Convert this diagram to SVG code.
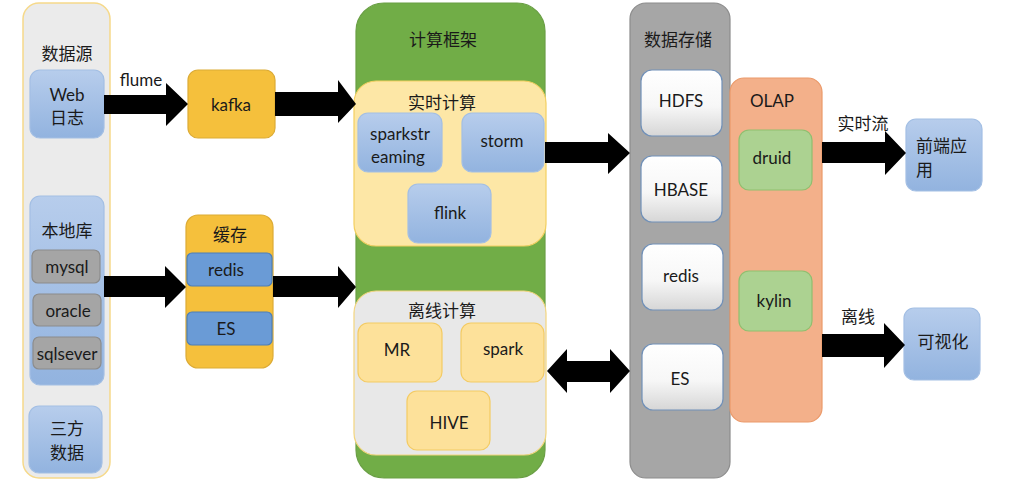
<svg xmlns="http://www.w3.org/2000/svg" width="1020" height="499" viewBox="0 0 1020 499">
<defs>
<linearGradient id="gBlue" x1="0" y1="0" x2="0" y2="1"><stop offset="0" stop-color="#b7cdec"/><stop offset="1" stop-color="#92b3df"/></linearGradient>
<linearGradient id="gWhite" x1="0" y1="0" x2="0" y2="1"><stop offset="0" stop-color="#ffffff"/><stop offset="0.55" stop-color="#f7f7f7"/><stop offset="1" stop-color="#d6d6d6"/></linearGradient>
<style>
.t{font-family:"Noto Sans CJK SC","Noto Sans",sans-serif;font-size:17px;fill:#1a1a1a;text-anchor:middle;dominant-baseline:central}
.l{font-family:Lato,"Noto Sans CJK SC",sans-serif;font-size:17px;fill:#1a1a1a;text-anchor:middle;dominant-baseline:central}
.blue{fill:url(#gBlue);stroke:#a3bfe4;stroke-width:1.2}
.gray{fill:#a5a5a5;stroke:#8c8c8c;stroke-width:1.2}
.gold{fill:#f5c03c;stroke:#dcab35;stroke-width:1.2}
.dblue{fill:#6a9bd6;stroke:#4c7fb8;stroke-width:1.2}
.lyel{fill:#fde7a6;stroke:#f3cf60;stroke-width:1.2}
.lgray{fill:#e8e8e8;stroke:#f3d57e;stroke-width:1.2}
.orng{fill:#fde19a;stroke:#f4cb63;stroke-width:1.2}
.white{fill:url(#gWhite);stroke:#7090b8;stroke-width:1.2}
.green{fill:#acd291;stroke:#8fbf6f;stroke-width:1.2}
.arrow{fill:#000}
</style>
</defs>
<rect width="1020" height="499" fill="#fff"/>

<g id="datasource">
<rect x="23" y="3" width="87" height="475" rx="16" fill="#ebebeb" stroke="#f6d98a" stroke-width="1.5"/>
<text class="t" x="67" y="52">数据源</text>
</g>
<g id="weblog">
<rect class="blue" x="30" y="70" width="74" height="68" rx="10"/>
<text class="l" x="67" y="94">Web</text>
<text class="t" x="67" y="116">日志</text>
</g>
<g id="localdb">
<rect class="blue" x="30" y="196" width="74" height="189" rx="10"/>
<text class="t" x="67" y="229">本地库</text>
</g>
<g id="mysql"><rect class="gray" x="32" y="250" width="68" height="33" rx="6"/><text class="l" x="67" y="266">mysql</text></g>
<g id="oracle"><rect class="gray" x="33" y="294" width="68" height="32" rx="6"/><text class="l" x="68" y="310">oracle</text></g>
<g id="sqlsever"><rect class="gray" x="33" y="337" width="68" height="32" rx="6"/><text class="l" x="67" y="353">sqlsever</text></g>
<g id="thirdparty">
<rect class="blue" x="29" y="406" width="73" height="67" rx="10"/>
<text class="t" x="67" y="427">三方</text>
<text class="t" x="67" y="451">数据</text>
</g>

<g id="kafka"><rect class="gold" x="188" y="70" width="87" height="68" rx="10"/><text class="l" x="231" y="104">kafka</text></g>
<g id="cache">
<rect class="gold" x="186" y="215" width="87" height="153" rx="12"/>
<text class="t" x="230" y="233">缓存</text>
</g>
<g id="cache-redis"><rect class="dblue" x="187" y="253" width="85" height="33" rx="5"/><text class="l" x="226" y="269">redis</text></g>
<g id="cache-es"><rect class="dblue" x="187" y="312" width="85" height="33" rx="5"/><text class="l" x="226" y="328">ES</text></g>

<g id="compute">
<rect x="356" y="3" width="189" height="475" rx="28" fill="#71ad47" stroke="#6a9f45" stroke-width="1.2"/>
<text class="t" x="443" y="38">计算框架</text>
</g>
<g id="realtime">
<rect class="lyel" x="354" y="81" width="192" height="165" rx="22"/>
<text class="t" x="442" y="101">实时计算</text>
</g>
<g id="sparkstreaming"><rect class="blue" x="358" y="113" width="84" height="59" rx="10"/><text class="l" x="400" y="133">sparkstr</text><text class="l" x="398" y="156">eaming</text></g>
<g id="storm"><rect class="blue" x="462" y="113" width="82" height="59" rx="10"/><text class="l" x="502" y="140">storm</text></g>
<g id="flink"><rect class="blue" x="408" y="184" width="83" height="59" rx="10"/><text class="l" x="450" y="212">flink</text></g>
<g id="offline">
<rect class="lgray" x="354" y="291" width="192" height="164" rx="22"/>
<text class="t" x="442" y="309">离线计算</text>
</g>
<g id="mr"><rect class="orng" x="358" y="323" width="84" height="59" rx="10"/><text class="l" x="397" y="349">MR</text></g>
<g id="spark"><rect class="orng" x="461" y="323" width="83" height="59" rx="10"/><text class="l" x="503" y="348">spark</text></g>
<g id="hive"><rect class="orng" x="407" y="391" width="83" height="59" rx="10"/><text class="l" x="449" y="422">HIVE</text></g>

<g id="storage">
<rect x="630" y="3" width="100" height="475" rx="16" fill="#a6a6a6" stroke="#8c8c8c" stroke-width="1.2"/>
<text class="t" x="678" y="38">数据存储</text>
</g>
<g id="hdfs"><rect class="white" x="641" y="70" width="81" height="66" rx="11"/><text class="l" x="681" y="100">HDFS</text></g>
<g id="hbase"><rect class="white" x="641" y="156" width="81" height="66" rx="11"/><text class="l" x="681" y="189">HBASE</text></g>
<g id="st-redis"><rect class="white" x="642" y="244" width="81" height="66" rx="11"/><text class="l" x="681" y="275">redis</text></g>
<g id="st-es"><rect class="white" x="642" y="344" width="81" height="66" rx="11"/><text class="l" x="680" y="378">ES</text></g>

<g id="olap">
<rect x="730" y="78" width="92" height="344" rx="14" fill="#f3b08a" stroke="#eb9a6a" stroke-width="1.2"/>
<text class="l" x="772" y="100">OLAP</text>
</g>
<g id="druid"><rect class="green" x="739" y="130" width="73" height="60" rx="10"/><text class="l" x="772" y="157">druid</text></g>
<g id="kylin"><rect class="green" x="739" y="271" width="73" height="60" rx="10"/><text class="l" x="774" y="300">kylin</text></g>

<g id="frontend"><rect class="blue" x="906" y="119" width="76" height="72" rx="10"/><text class="t" x="916" y="144" style="text-anchor:start">前端应</text><text class="t" x="916" y="168" style="text-anchor:start">用</text></g>
<g id="visual"><rect class="blue" x="904" y="308" width="76" height="72" rx="10"/><text class="t" x="943" y="340">可视化</text></g>

<g id="connectors">
<polygon class="arrow" points="104,95 166,95 166,83 188,104 166,126 166,114 104,114"/>
<text class="l" x="141" y="79">flume</text>
<polygon class="arrow" points="275,92 338,92 338,80 356,104 338,123 338,116 275,116"/>
<polygon class="arrow" points="104,276 165,276 165,266 186,287 165,308 165,297 104,297"/>
<polygon class="arrow" points="273,276 338,276 338,266 356,287 338,308 338,297 273,297"/>
<polygon class="arrow" points="545,142 608,142 608,133 630,153 608,174 608,163 545,163"/>
<polygon class="arrow" points="547,371 567,349 567,361 610,361 610,349 630,371 610,393 610,382 567,382 567,393"/>
<polygon class="arrow" points="822,142 885,142 885,131 906,153 885,175 885,163 822,163"/>
<text class="t" x="863" y="122">实时流</text>
<polygon class="arrow" points="822,334 884,334 884,323 905,345 884,368 884,357 822,357"/>
<text class="t" x="858" y="315">离线</text>
</g>
</svg>
